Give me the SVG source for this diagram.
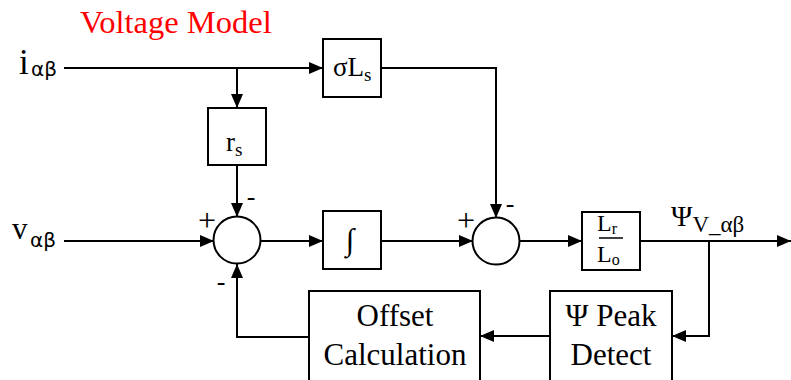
<svg xmlns="http://www.w3.org/2000/svg" width="791" height="380" viewBox="0 0 791 380">
<defs>
<marker id="ah" markerWidth="14" markerHeight="12" refX="14" refY="6" orient="auto" markerUnits="userSpaceOnUse">
<path d="M0,0 L14,6 L0,12 Z" fill="#000"/>
</marker>
<style>
.blk{fill:#fff;stroke:#000;stroke-width:2}
.ln{fill:none;stroke:#000;stroke-width:2}
.t{font-family:"Liberation Serif","Times New Roman",serif;fill:#000}
.g{font-family:"DejaVu Sans","Liberation Sans",sans-serif;fill:#000}
.red{fill:#f00}
</style>
</defs>
<rect width="791" height="380" fill="#fff"/>
<text class="t red" x="80" y="33" font-size="32.5">Voltage Model</text>

<g id="connectors">
<path class="ln" d="M64,68 H323" marker-end="url(#ah)"/>
<path class="ln" d="M237,68 V108" marker-end="url(#ah)"/>
<path class="ln" d="M237,165 V217" marker-end="url(#ah)"/>
<path class="ln" d="M64,241 H214" marker-end="url(#ah)"/>
<path class="ln" d="M261,241 H323" marker-end="url(#ah)"/>
<path class="ln" d="M381,241 H473" marker-end="url(#ah)"/>
<path class="ln" d="M381,68 H496 V218" marker-end="url(#ah)"/>
<path class="ln" d="M519,241 H582" marker-end="url(#ah)"/>
<path class="ln" d="M640,241 H791" marker-end="url(#ah)"/>
<path class="ln" d="M709,241 V336 H672" marker-end="url(#ah)"/>
<path class="ln" d="M550,336 H480" marker-end="url(#ah)"/>
<path class="ln" d="M309,337 H237 V264" marker-end="url(#ah)"/>
</g>

<g id="in_i">
<text class="t" x="19" y="74" font-size="35">i</text>
<text class="g" x="31" y="76" font-size="20">αβ</text>
</g>
<g id="in_v">
<text class="t" x="12" y="239" font-size="31">v</text>
<text class="g" x="30" y="247" font-size="20">αβ</text>
</g>

<g id="sigmaLs">
<rect class="blk" x="323" y="39" width="58" height="58"/>
<text class="t" x="333" y="76" font-size="27">σL<tspan font-size="19" dy="5">s</tspan></text>
</g>
<g id="rs">
<rect class="blk" x="208" y="108" width="58" height="57"/>
<text class="t" x="226" y="151" font-size="27">r<tspan font-size="19" dy="5">s</tspan></text>
</g>
<g id="sum1">
<circle class="blk" cx="237" cy="240" r="23.5"/>
<text class="t" x="207" y="231" font-size="32" text-anchor="middle">+</text>
<text class="t" x="251" y="205" font-size="26" text-anchor="middle">-</text>
<text class="t" x="221" y="290" font-size="26" text-anchor="middle">-</text>
</g>
<g id="integ">
<rect class="blk" x="323" y="211" width="58" height="58"/>
<text class="t" x="350" y="250" font-size="31" text-anchor="middle">∫</text>
</g>
<g id="sum2">
<circle class="blk" cx="496" cy="241" r="23.5"/>
<text class="t" x="466" y="231" font-size="32" text-anchor="middle">+</text>
<text class="t" x="510" y="212" font-size="26" text-anchor="middle">-</text>
</g>
<g id="LrLo">
<rect class="blk" x="582" y="212" width="58" height="58"/>
<text class="t" x="597" y="231" font-size="24">L<tspan font-size="16" dy="3">r</tspan></text>
<line x1="599" y1="238" x2="623" y2="238" stroke="#000" stroke-width="1.5"/>
<text class="t" x="597" y="262" font-size="24">L<tspan font-size="16" dy="3">o</tspan></text>
</g>
<g id="psi_label">
<text class="t" x="671" y="226" font-size="29">Ψ<tspan font-size="23" dy="6">V_αβ</tspan></text>
</g>
<g id="peak">
<rect class="blk" x="550" y="291" width="122" height="100"/>
<text class="t" x="611" y="326" font-size="31" text-anchor="middle">Ψ Peak</text>
<text class="t" x="611" y="365" font-size="31" text-anchor="middle">Detect</text>
</g>
<g id="offset">
<rect class="blk" x="309" y="291" width="171" height="100"/>
<text class="t" x="395" y="326" font-size="31" text-anchor="middle">Offset</text>
<text class="t" x="395" y="365" font-size="31" text-anchor="middle">Calculation</text>
</g>
</svg>
